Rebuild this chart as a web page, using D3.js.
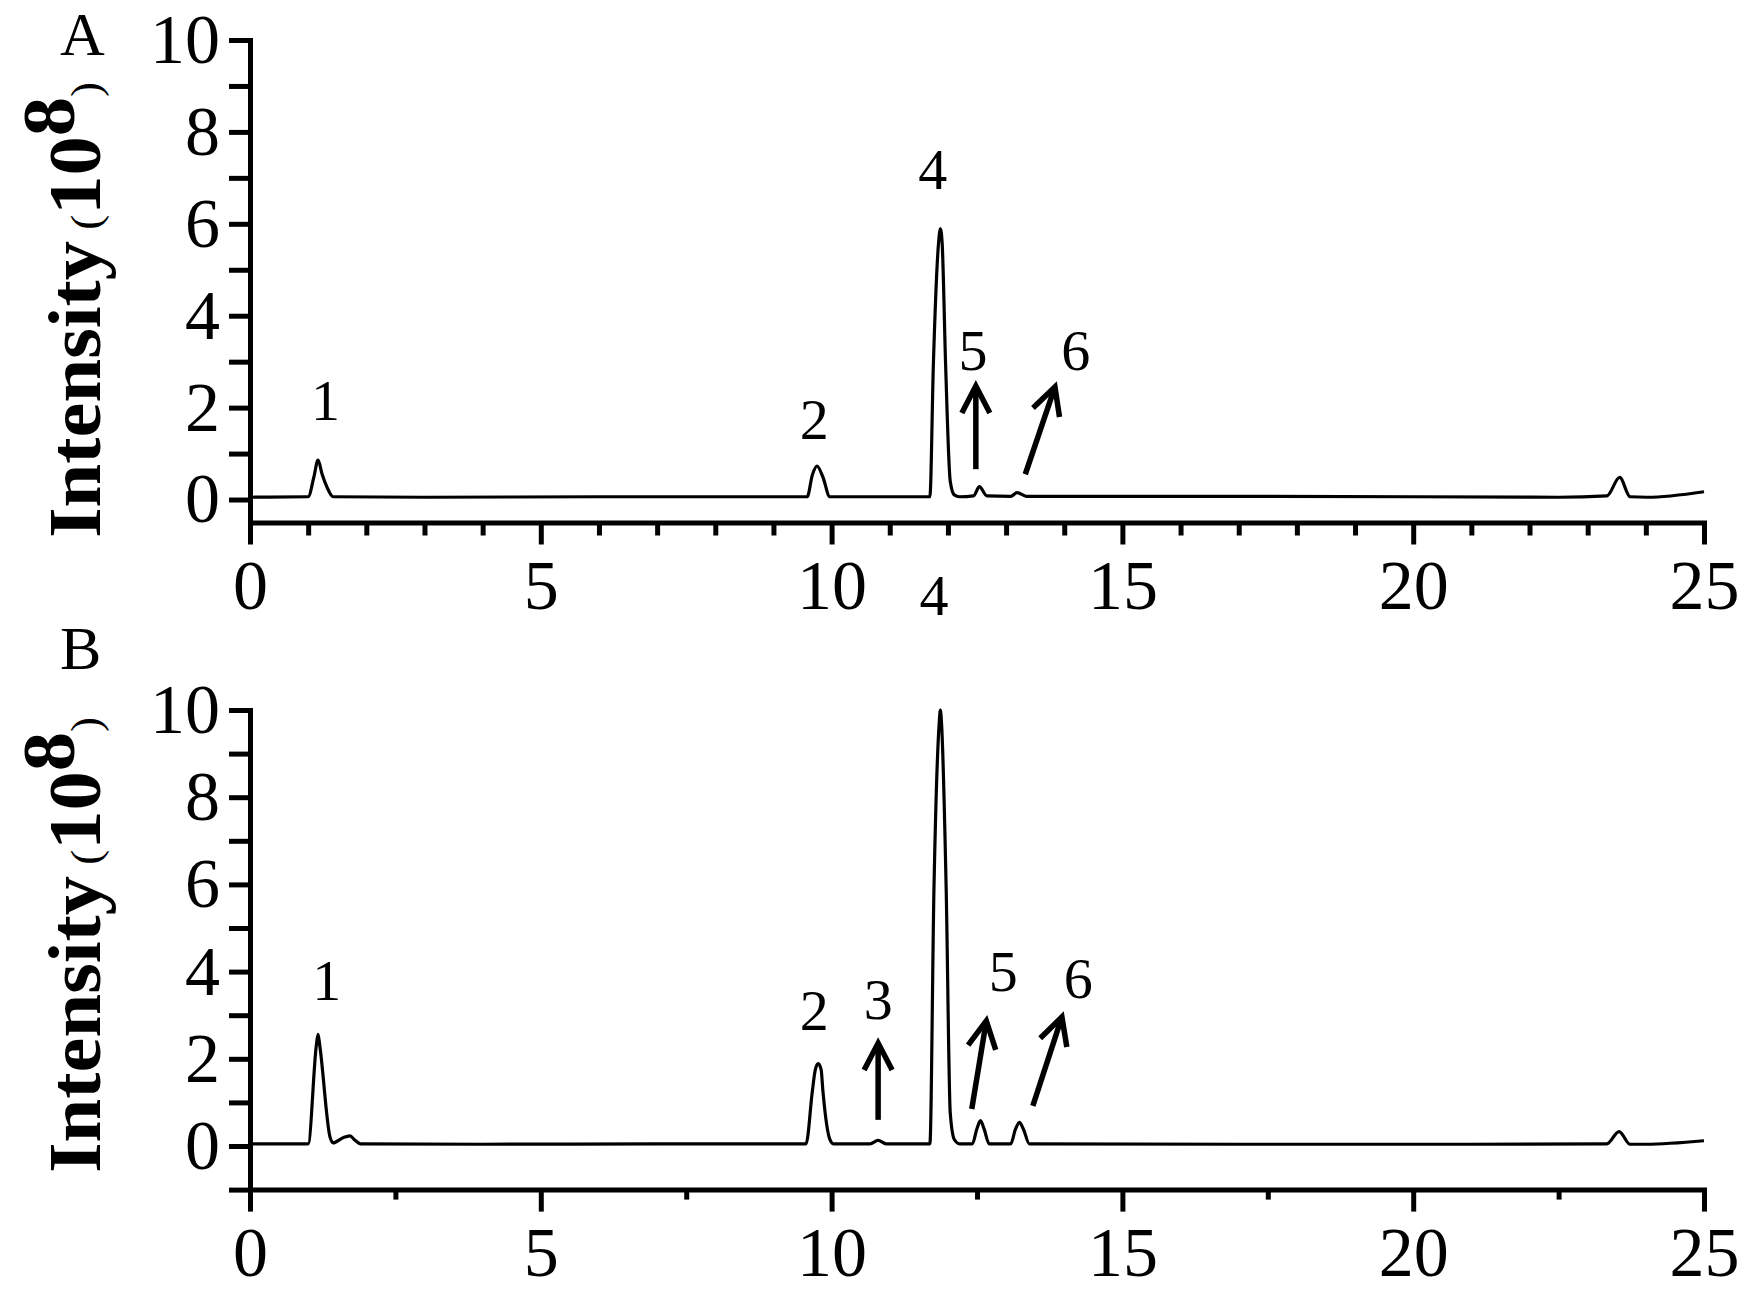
<!DOCTYPE html>
<html lang="en">
<head>
<meta charset="UTF-8">
<title>Chromatograms A / B</title>
<script src="https://cdnjs.cloudflare.com/ajax/libs/d3/7.8.5/d3.min.js"></script>
<style>
    body { margin: 0; background: #fff; }
    text { font-family: "Liberation Serif", "Times New Roman", Tinos, "DejaVu Serif", serif; font-stretch: condensed; fill: #000; }
</style>
</head>
<body>

<div id="chart"></div>

<script>
    var width = 1748;
    var height = 1297;

    var timeA = [0, 1.0, 1.1, 1.17, 1.24, 1.32, 1.43, 3.0, 6.0,
        9.58, 9.67, 9.75, 9.85, 9.97, 10.5,
        11.69, 11.75, 11.84, 11.87, 11.9, 11.96, 12.04, 12.11, 12.2,
        12.44, 12.54, 12.67, 13.08, 13.19, 13.35,
        16.0, 20.0, 22.5, 23.33, 23.55, 23.73, 24.02, 25.0];
    var intensityA = [0.05, 0.06, 0.5, 0.86, 0.55, 0.28, 0.06, 0.05, 0.06,
        0.06, 0.54, 0.73, 0.49, 0.06, 0.06,
        0.06, 2.95, 5.6, 5.89, 5.6, 2.95, 0.4, 0.1, 0.06,
        0.08, 0.28, 0.08, 0.07, 0.15, 0.07,
        0.07, 0.06, 0.05, 0.08, 0.48, 0.06, 0.05, 0.17];

    // trace B
    var timeB = [0, 1.0, 1.14, 1.17, 1.2, 1.375, 1.43, 1.6, 1.72, 1.8, 1.9, 4.0, 7.0,
        9.56, 9.67, 9.72, 9.77, 9.82, 9.85, 9.97, 10.03,
        10.66, 10.8, 10.94,
        11.69, 11.76, 11.85, 11.87, 11.89, 11.97, 12.04, 12.11, 12.2,
        12.42, 12.5, 12.56, 12.62, 12.71,
        13.08, 13.16, 13.23, 13.3, 13.4,
        17.0, 21.0, 23.33, 23.54, 23.73, 24.0, 25.0];
    var intensityB = [0.05, 0.05, 2.3, 2.56, 2.3, 0.21, 0.07, 0.19, 0.23, 0.14, 0.05, 0.04, 0.05,
        0.05, 1.27, 1.75, 1.89, 1.75, 1.27, 0.15, 0.05,
        0.05, 0.13, 0.05,
        0.05, 5.9, 9.7, 10.0, 9.7, 5.9, 0.76, 0.15, 0.05,
        0.05, 0.4, 0.58, 0.4, 0.05,
        0.05, 0.38, 0.54, 0.38, 0.05,
        0.04, 0.04, 0.05, 0.33, 0.04, 0.04, 0.12];

    // peak numbers: label, time, intensity at label baseline
    var peakNamesA = ["1", "2", "4", "5", "6"];
    var peakTimesA = [1.30, 9.70, 11.74, 12.43, 14.20];
    var peakLevelsA = [1.73, 1.32, 6.75, 2.82, 2.82];

    var peakNamesB = ["1", "2", "3", "4", "5", "6"];
    var peakTimesB = [1.32, 9.70, 10.80, 11.76, 12.95, 14.24];
    var peakLevelsB = [3.36, 2.66, 2.92, 12.18, 3.55, 3.40];

    // arrows: [t0, v0, t1, v1] from tail to tip
    var arrowsA = [[12.48, 0.66, 12.48, 2.47], [13.33, 0.55, 13.84, 2.45]];
    var arrowsB = [[10.80, 0.60, 10.80, 2.36], [12.41, 0.85, 12.66, 2.87], [13.46, 0.92, 13.96, 2.96]];

    var xTicks = [0, 5, 10, 15, 20, 25];
    var xMinorA = [1, 2, 3, 4, 6, 7, 8, 9, 11, 12, 13, 14, 16, 17, 18, 19, 21, 22, 23, 24];
    var xMinorB = [2.5, 7.5, 12.5, 17.5, 22.5];
    var yTicksA = [0, 1, 2, 3, 4, 5, 6, 7, 8, 9, 10];
    var yTicksB = [-1, 0, 1, 2, 3, 4, 5, 6, 7, 8, 9, 10];
    var yLabelled = [0, 2, 4, 6, 8, 10];

    var svg = d3.select("#chart")
        .append("svg")
        .attr("width", width)
        .attr("height", height);

    svg.append("rect")
        .attr("width", "100%")
        .attr("height", "100%")
        .attr("fill", "#fff");

    svg.append("defs").append("marker")
        .attr("id", "head")
        .attr("markerUnits", "userSpaceOnUse")
        .attr("viewBox", "-40 -25 50 50")
        .attr("markerWidth", 50)
        .attr("markerHeight", 50)
        .attr("refX", 0)
        .attr("refY", 0)
        .attr("orient", "auto")
        .append("path")
        .attr("d", "M-27,-14L0,0L-27,14")
        .attr("fill", "none")
        .attr("stroke", "#000")
        .attr("stroke-width", 5.5);

    var x = d3.scaleLinear().domain([0, 25]).range([250, 1704]);

    function drawPanel(p) {
        var g = svg.append("g");
        var y = d3.scaleLinear().domain(p.yDomain).range(p.yRange);
        var yBase = y(p.yDomain[0]);

        // minor x ticks
        g.append("g")
            .attr("transform", "translate(0," + yBase + ")")
            .call(d3.axisBottom(x).tickValues(p.xMinor).tickSize(p.minorLen).tickFormat("").tickSizeOuter(0))
            .call(function(s) { s.select(".domain").remove(); });

        var xa = g.append("g")
            .attr("transform", "translate(0," + yBase + ")")
            .call(d3.axisBottom(x).tickValues(xTicks).tickSize(22).tickPadding(15).tickSizeOuter(0));

        var ya = g.append("g")
            .attr("transform", "translate(" + x(0) + ",0)")
            .call(d3.axisLeft(y).tickValues(p.yTicks).tickSize(21).tickPadding(9).tickSizeOuter(0)
                .tickFormat(function(d) { return yLabelled.indexOf(d) >= 0 ? d : ""; }));

        g.selectAll(".tick line, .domain")
            .attr("stroke", "#000")
            .attr("stroke-width", 5);
        g.selectAll(".domain").attr("stroke-linecap", "square");
        xa.attr("font-size", 70).attr("font-family", null);
        ya.attr("font-size", 70).attr("font-family", null);

        var line = d3.line()
            .x(function(d, i) { return x(p.time[i]); })
            .y(function(d) { return y(d); })
            .curve(d3.curveMonotoneX);

        g.append("path")
            .datum(p.intensity)
            .attr("d", line)
            .attr("fill", "none")
            .attr("stroke", "#000")
            .attr("stroke-width", 3.2)
            .attr("stroke-linejoin", "round");

        g.selectAll(".peak")
            .data(p.names)
            .enter()
            .append("text")
            .attr("x", function(d, i) { return x(p.times[i]); })
            .attr("y", function(d, i) { return y(p.levels[i]); })
            .attr("text-anchor", "middle")
            .attr("font-size", 58)
            .text(function(d) { return d; });

        g.selectAll(".arrow")
            .data(p.arrows)
            .enter()
            .append("line")
            .attr("x1", function(d) { return x(d[0]); })
            .attr("y1", function(d) { return y(d[1]); })
            .attr("x2", function(d) { return x(d[2]); })
            .attr("y2", function(d) { return y(d[3]); })
            .attr("stroke", "#000")
            .attr("stroke-width", 5.5)
            .attr("marker-end", "url(#head)");

        // axis title, squeezed to the length it has in the figure
        var title = g.append("text")
            .attr("transform", "translate(100," + p.titleY + ") rotate(-90)")
            .attr("text-anchor", "middle")
            .attr("textLength", 456)
            .attr("lengthAdjust", "spacingAndGlyphs");
        title.append("tspan").attr("font-weight", "bold").attr("font-size", 74).text("Intensity");
        title.append("tspan").attr("font-size", 42).text(" (");
        title.append("tspan").attr("font-weight", "bold").attr("font-size", 74).text("10");
        title.append("tspan").attr("font-weight", "bold").attr("font-size", 74).attr("dy", -26).text("8");
        title.append("tspan").attr("font-size", 42).attr("dy", 26).text(")");

        svg.append("text")
            .attr("x", 60)
            .attr("y", p.letterY)
            .attr("font-size", 62)
            .text(p.letter);
    }

    drawPanel({
        letter: "A", letterY: 55,
        yDomain: [-0.5, 10], yRange: [522.5, 40],
        yTicks: yTicksA, xMinor: xMinorA, minorLen: 13,
        time: timeA, intensity: intensityA,
        names: peakNamesA, times: peakTimesA, levels: peakLevelsA,
        arrows: arrowsA, titleY: 310
    });

    drawPanel({
        letter: "B", letterY: 669,
        yDomain: [-1, 10], yRange: [1189.6, 710],
        yTicks: yTicksB, xMinor: xMinorB, minorLen: 10,
        time: timeB, intensity: intensityB,
        names: peakNamesB, times: peakTimesB, levels: peakLevelsB,
        arrows: arrowsB, titleY: 945
    });
</script>

</body>
</html>
